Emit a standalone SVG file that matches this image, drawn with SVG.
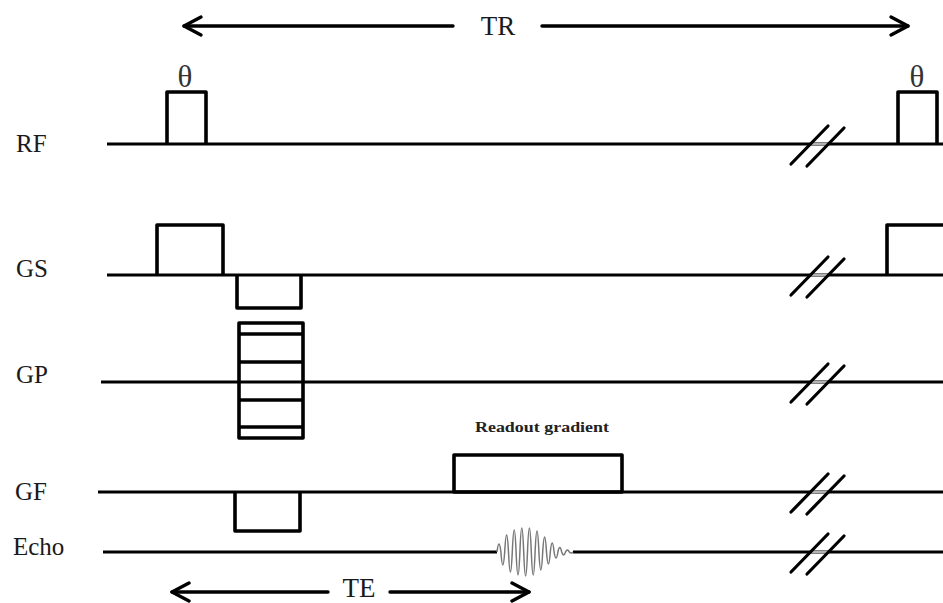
<svg xmlns="http://www.w3.org/2000/svg" width="943" height="603" viewBox="0 0 943 603">
<style>
.base{stroke:#000;stroke-width:3.2;fill:none}
.pulse{stroke:#000;stroke-width:3.6;fill:none;stroke-linejoin:round}
.lbl{font-family:"Liberation Serif","DejaVu Serif",serif;font-size:25px;fill:#1a1a1a}
.big{font-family:"Liberation Serif","DejaVu Serif",serif;font-size:27px;fill:#1a1a1a;text-anchor:middle}
.theta{font-family:"Liberation Serif","DejaVu Serif",serif;font-size:31px;fill:#333;text-anchor:middle}
.arrow{stroke:#000;stroke-width:3.4;fill:none;stroke-linecap:round;stroke-linejoin:round}
.slash{stroke:#000;stroke-width:3.2;stroke-linecap:round}
.gap{stroke:#fff;stroke-width:1.4}
</style>
<defs>
<g id="brk">
<line class="gap" x1="812" y1="0" x2="827" y2="0"/>
<line class="slash" x1="791" y1="20" x2="828" y2="-18"/>
<line class="slash" x1="807" y1="22" x2="844" y2="-16"/>
</g>
</defs>
<rect width="943" height="603" fill="#fff"/>

<g id="TR">
<line class="arrow" x1="184" y1="26" x2="453" y2="26"/>
<line class="arrow" x1="542" y1="26" x2="908" y2="26"/>
<polyline class="arrow" points="201,17 184,26 201,35"/>
<polyline class="arrow" points="891,17 908,26 891,35"/>
<text class="big" x="498" y="35">TR</text>
</g>

<g id="RF">
<text class="lbl" x="16" y="152">RF</text>
<line class="base" x1="107" y1="144" x2="943" y2="144"/>
<polyline class="pulse" points="167,144 167,92 206,92 206,144"/>
<polyline class="pulse" points="898,144 898,92 937,92 937,144"/>
<text class="theta" x="185" y="87">θ</text>
<text class="theta" x="917" y="87">θ</text>
<use href="#brk" transform="translate(0,144)"/>
</g>

<g id="GS">
<text class="lbl" x="16" y="277">GS</text>
<line class="base" x1="107" y1="275" x2="943" y2="275"/>
<polyline class="pulse" points="157,275 157,225 223,225 223,275"/>
<polyline class="pulse" points="237,275 237,308 301,308 301,275"/>
<polyline class="pulse" points="887,275 887,225 943,225"/>
<use href="#brk" transform="translate(0,275)"/>
</g>

<g id="GP">
<text class="lbl" x="16" y="383">GP</text>
<line class="base" x1="101" y1="382" x2="943" y2="382"/>
<rect class="pulse" x="239" y="323" width="64" height="115"/>
<line class="pulse" x1="239" y1="334" x2="303" y2="334"/>
<line class="pulse" x1="239" y1="362" x2="303" y2="362"/>
<line class="pulse" x1="239" y1="400" x2="303" y2="400"/>
<line class="pulse" x1="239" y1="427" x2="303" y2="427"/>
<use href="#brk" transform="translate(0,382)"/>
</g>

<g id="GF">
<text class="lbl" x="15" y="500">GF</text>
<line class="base" x1="98" y1="492" x2="943" y2="492"/>
<rect class="pulse" x="454" y="455" width="168" height="37"/>
<polyline class="pulse" points="235,492 235,531 300,531 300,492"/>
<text x="542" y="432" font-family="Liberation Serif, DejaVu Serif, serif" font-size="15" font-weight="bold" fill="#222" text-anchor="middle" textLength="134" lengthAdjust="spacingAndGlyphs">Readout gradient</text>
<use href="#brk" transform="translate(0,492)"/>
</g>

<g id="Echo">
<text class="lbl" x="13" y="555">Echo</text>
<line class="base" x1="103" y1="552" x2="497" y2="552"/>
<line class="base" x1="573" y1="552" x2="943" y2="552"/>
<path d="M497 552 Q499 536 500.9 552 Q502.8 578 504.7 552 Q506.6 518 508.5 552 Q510.4 592 512.3 552 Q514.2 508 516.1 552 Q518 598 519.9 552 Q521.8 504 523.7 552 Q525.6 600 527.5 552 Q529.4 504 531.3 552 Q533.2 598 535.1 552 Q537 510 538.9 552 Q540.8 588 542.7 552 Q544.6 522 546.5 552 Q548.4 576 550.3 552 Q552.2 534 554.1 552 Q556 564 557.9 552 Q559.8 543 561.7 552 Q563.6 558 565.5 552 Q567.4 548 569.3 552 Q571.2 554 573.1 552" fill="none" stroke="#777" stroke-width="1.5"/>
<use href="#brk" transform="translate(0,552)"/>
</g>

<g id="TE">
<line class="arrow" x1="172" y1="592" x2="328" y2="592"/>
<line class="arrow" x1="390" y1="592" x2="529" y2="592"/>
<polyline class="arrow" points="189,583 172,592 189,601"/>
<polyline class="arrow" points="512,583 529,592 512,601"/>
<text class="big" x="359" y="597" font-size="24">TE</text>
</g>
</svg>
